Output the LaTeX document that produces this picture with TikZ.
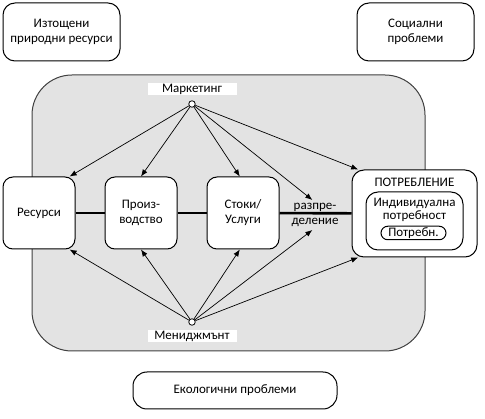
\documentclass[tikz,border=0pt]{standalone}
\usepackage{fontspec}
\setmainfont{Carlito}
\definecolor{PanelGray}{RGB}{227,227,227}
\definecolor{EdgeGray}{RGB}{64,64,64}
\usetikzlibrary{math,arrows.meta}
\tikzset{
  panel/.style={draw=black,fill=white,line width=1pt,rounded corners=12pt,align=center,inner sep=0pt},
  stage/.style={panel,rounded corners=10pt,minimum width=72pt,minimum height=72pt},
  tag/.style={fill=white,inner sep=0pt,minimum width=89pt,minimum height=12pt},
  hub/.style={circle,draw=black,fill=white,line width=0.8pt,inner sep=0pt,minimum size=6.5pt},
  flow/.style={line width=2.6pt},
  link/.style={-{Latex[length=7pt,width=5.5pt]},line width=0.7pt}
}

\begin{document}
\begin{tikzpicture}[x=1pt,y=-1pt,font=\fontsize{13}{15}\selectfont]
    \tikzmath{
      \ymid=213; % height of the main chain
    }
    \useasboundingbox (0,0) rectangle (485,419);
    \filldraw[fill=PanelGray,draw=EdgeGray,line width=1pt,rounded corners=40pt] (32,75) rectangle (425,351);
    % outer problems
    \node[panel,minimum width=117pt,minimum height=58pt] (depleted) at (61.5,32) {Изтощени\\природни ресурси};
    \node[panel,minimum width=117pt,minimum height=58pt] (social) at (415.5,32) {Социални\\проблеми};
    \node[panel,rounded corners=14pt,minimum width=204pt,minimum height=37pt] (ecology) at (235,390.5) {Екологични проблеми};
    % main chain
    \node[stage] (res) at (39,\ymid) {Ресурси};
    \node[stage] (prod) at (141,\ymid) {Произ-\\водство};
    \node[stage] (goods) at (243,\ymid) {Стоки/\\Услуги};
    \node[panel,minimum width=125pt,minimum height=87pt] (cons) at (414.5,213.5) {};
    \node (consT) at (414.5,182) {ПОТРЕБЛЕНИЕ};
    \node[panel,minimum width=97pt,minimum height=58pt] (need) at (414.5,221) {};
    \node[align=center,font=\fontsize{13}{12.5}\selectfont] (needT) at (414.5,210) {Индивидуална\\потребност};
    \node[panel,rounded corners=6.75pt,minimum width=65pt,minimum height=13.5pt] (unit) at (413.5,233) {Потребн.};
    \node[align=center,font=\fontsize{13}{14.5}\selectfont] (razp) at (315,215) {разпре-\\деление};
    \draw[flow] (res) -- (prod);
    \draw[flow] (prod) -- (goods);
    \draw[flow] (goods) -- (cons);
    % marketing and management
    \node[tag] (mkt) at (192,89.5) {Маркетинг};
    \node[tag] (mgmt) at (192,336.5) {Мениджмънт};
    \node[hub] (mktdot) at (192,104) {};
    \node[hub] (mgmtdot) at (192,322) {};
    \foreach \t in {res.50,prod.north,goods.95,razp.100,cons.142}
      \draw[link] (mktdot) -- (\t);
    \foreach \t in {res.-50,prod.south,goods.-95,razp.-100,cons.-142}
      \draw[link] (mgmtdot) -- (\t);
  \end{tikzpicture}
\end{document}
